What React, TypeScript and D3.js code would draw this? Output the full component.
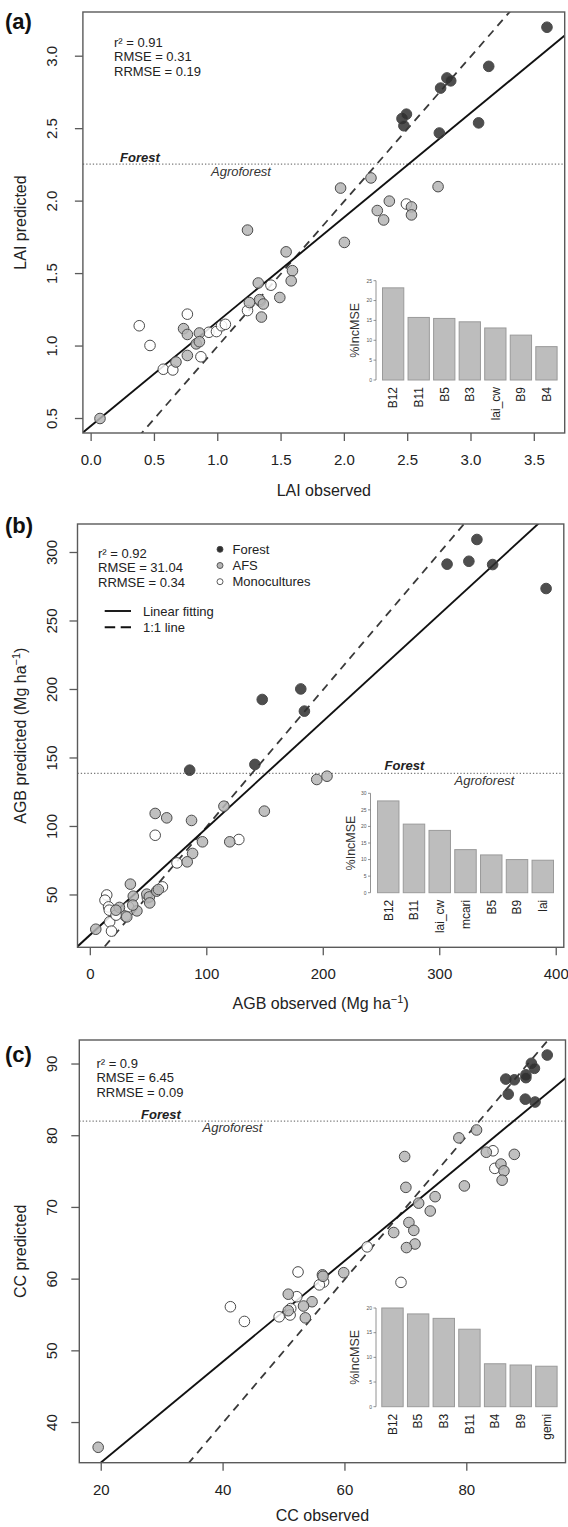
import React from 'react';
import * as d3 from 'd3';

// ---------------- DATA ----------------
// Panel (a) LAI  [observed, predicted]
const laiForest: [number, number][] = [
  [3.60, 3.20], [3.14, 2.93], [2.81, 2.85], [2.84, 2.83], [2.76, 2.78], [2.455, 2.57], [2.49, 2.60],
  [2.47, 2.52], [3.06, 2.54], [2.75, 2.47],
];
const laiAfs: [number, number][] = [
  [2.21, 2.16], [1.97, 2.09], [2.74, 2.10], [2.355, 2.00], [2.26, 1.935], [2.31, 1.87], [2.53, 1.96],
  [2.53, 1.905], [1.235, 1.80], [2.00, 1.715], [1.54, 1.65], [1.59, 1.52], [1.58, 1.45], [1.32, 1.435],
  [1.49, 1.335], [1.33, 1.32], [1.36, 1.29], [1.25, 1.30], [1.345, 1.20], [0.73, 1.12], [0.76, 1.08],
  [0.855, 1.09], [0.83, 1.015], [0.855, 1.03], [0.76, 0.935], [0.67, 0.89], [0.07, 0.50],
];
const laiMono: [number, number][] = [
  [2.49, 1.98], [1.42, 1.42], [1.335, 1.31], [1.235, 1.245], [0.76, 1.22], [0.38, 1.14], [0.465, 1.004],
  [0.93, 1.095], [0.99, 1.10], [1.03, 1.14], [1.06, 1.15], [0.867, 0.926], [0.57, 0.84], [0.645, 0.835],
];
const laiFit = [0.45, 0.72]; // intercept, slope
const laiStats = ['r² = 0.91', 'RMSE = 0.31', 'RRMSE = 0.19'];
const laiForestLimit = 2.255;
const laiImpVars = ['B12', 'B11', 'B5', 'B3', 'lai_cw', 'B9', 'B4'];
const laiImpVals = [23.2, 15.75, 15.5, 14.65, 13.1, 11.3, 8.4];
const laiXTicks = [0, 0.5, 1, 1.5, 2, 2.5, 3, 3.5];
const laiYTicks = [0.5, 1, 1.5, 2, 2.5, 3];
const laiImpTicks = [0, 5, 10, 15, 20, 25];

// Panel (b) AGB
const agbForest: [number, number][] = [
  [331.9, 309.5], [306.3, 291.5], [325, 293.6], [345.4, 291.2], [391.3, 273.7], [147.6, 192.7],
  [180.7, 200.4], [183.8, 184.2], [85.3, 141.1], [141.3, 145.3],
];
const agbAfs: [number, number][] = [
  [194.4, 134.3], [203.2, 136.7], [149.4, 111.2], [114.7, 114.8], [55.7, 109.5], [65.6, 106.3],
  [86.9, 104.4], [96.3, 88.8], [119.7, 88.8], [87.8, 80.3], [83.2, 74.2], [34.4, 57.9], [36.9, 49.1],
  [48.5, 50.6], [50.7, 48.6], [57, 52.8], [58.5, 54], [51, 44.2], [40, 38.4], [36.4, 42.6], [25, 40.9],
  [22, 38.9], [31.3, 34], [4.7, 25],
];
const agbMono: [number, number][] = [
  [55.7, 93.6], [127.5, 90.5], [74.4, 73.4], [14.1, 50], [12.6, 46.2], [15.7, 41.3], [16.3, 38.9],
  [16.6, 30.4], [18.2, 23.6], [32.8, 41.3], [30.1, 34.5], [22.1, 35.3], [49, 48], [61.9, 55.9],
];
const agbFit = [21, 0.78];
const agbStats = ['r² = 0.92', 'RMSE = 31.04', 'RRMSE = 0.34'];
const agbForestLimit = 138.7;
const agbImpVars = ['B12', 'B11', 'lai_cw', 'mcari', 'B5', 'B9', 'lai'];
const agbImpVals = [27.7, 20.7, 18.8, 13.0, 11.4, 10.0, 9.8];
const agbXTicks = [0, 100, 200, 300, 400];
const agbYTicks = [50, 100, 150, 200, 250, 300];
const agbImpTicks = [0, 5, 10, 15, 20, 25, 30];
const legendGroups = ['Forest', 'AFS', 'Monocultures'];
const legendLines = ['Linear fitting', '1:1 line'];

// Panel (c) CC
const ccForest: [number, number][] = [
  [93.2, 91.25], [90.6, 90.1], [91.1, 89.4], [89.7, 88.5], [89.7, 88.1], [86.4, 87.9], [87.8, 87.8],
  [86.8, 85.8], [89.6, 85.1], [91.2, 84.7],
];
const ccAfs: [number, number][] = [
  [81.6, 80.8], [78.7, 79.7], [69.8, 77.1], [83.2, 77.7], [87.8, 77.4], [85.6, 76.05], [86.1, 75.1],
  [85.8, 73.8], [79.6, 73.0], [70.0, 72.8], [74.8, 71.5], [72.1, 70.6], [74, 69.5], [70.5, 67.9],
  [71.3, 66.8], [68, 66.5], [71.5, 64.9], [70.1, 64.4], [59.8, 60.9], [56.3, 60.6], [56.4, 60.4],
  [50.7, 57.9], [54.6, 56.85], [53.2, 56.25], [50.7, 55.6], [53.5, 54.6], [19.5, 36.55],
];
const ccMono: [number, number][] = [
  [84.3, 77.9], [84.6, 75.45], [63.65, 64.5], [69.2, 59.55], [56.5, 59.6], [55.8, 59.2], [52.3, 61.0],
  [41.2, 56.15], [43.5, 54.1], [52.1, 57.55], [51.1, 55.9], [49.2, 54.75], [51, 55],
];
const ccFit = [20.4, 0.703];
const ccStats = ['r² = 0.9', 'RMSE = 6.45', 'RRMSE = 0.09'];
const ccForestLimit = 82.05;
const ccImpVars = ['B12', 'B5', 'B3', 'B11', 'B4', 'B9', 'gemi'];
const ccImpVals = [20.0, 18.8, 17.9, 15.7, 8.7, 8.45, 8.2];
const ccXTicks = [20, 40, 60, 80];
const ccYTicks = [40, 50, 60, 70, 80, 90];
const ccImpTicks = [0, 5, 10, 15, 20];

// ---------------- STYLE ----------------
const FONT = "'Liberation Sans', Arial, Helvetica, sans-serif";
const FILL_FOREST = '#2f2f2f';
const FILL_AFS = '#b5b5b5';
const FILL_MONO = '#ffffff';
const PT_STROKE = '#4a4a4a';
const AXIS = '#5a5a5a';

type Box = { x0: number; x1: number; y0: number; y1: number };

interface PanelProps {
  id: string;
  label: string;
  labelY: number;
  box: Box;
  xDom: [number, number];
  yDom: [number, number];
  xTicks: number[];
  yTicks: number[];
  fmt: (v: number) => string;
  forest: [number, number][];
  afs: [number, number][];
  mono: [number, number][];
  fit: number[];
  limit: number;
  stats: string[];
  statsX: number;
  statsY: number;
  forestLab: [number, number];
  agroLab: [number, number];
  impVars: string[];
  impVals: number[];
  impTicks: number[];
  inset: { axisX: number; left: number; right: number; yZero: number; yTop: number; titleX: number };
  xTitle: React.ReactNode;
  xTitleY: number;
  yTitle: React.ReactNode;
  children?: React.ReactNode;
}

function Panel(p: PanelProps) {
  const { box } = p;
  const x = d3.scaleLinear().domain(p.xDom).range([box.x0, box.x1]);
  const y = d3.scaleLinear().domain(p.yDom).range([box.y1, box.y0]);
  const line = d3.line<[number, number]>().x(d => x(d[0])).y(d => y(d[1]));
  const fitPts: [number, number][] = [p.xDom[0], p.xDom[1]].map(v => [v, p.fit[0] + p.fit[1] * v]);
  const lo = Math.min(p.xDom[0], p.yDom[0]);
  const hi = Math.max(p.xDom[1], p.yDom[1]);
  const oneOne: [number, number][] = [[lo, lo], [hi, hi]];
  const clipId = 'clip-' + p.id;

  const ins = p.inset;
  const bx = d3.scaleBand<string>().domain(p.impVars).range([ins.left, ins.right]).paddingInner(0.2 / 1.2).paddingOuter(0);
  const imax = p.impTicks[p.impTicks.length - 1];
  const by = d3.scaleLinear().domain([0, imax]).range([ins.yZero, ins.yTop]);

  const dot = (pts: [number, number][], fill: string, key: string) =>
    pts.map((d, i) => (
      <circle key={key + i} cx={x(d[0])} cy={y(d[1])} r={5.3} fill={fill} fillOpacity={0.85}
        stroke={PT_STROKE} strokeWidth={1} />
    ));

  const cy = (box.y0 + box.y1) / 2;
  const cx = (box.x0 + box.x1) / 2;

  return (
    <g>
      <defs>
        <clipPath id={clipId}>
          <rect x={box.x0} y={box.y0} width={box.x1 - box.x0} height={box.y1 - box.y0} />
        </clipPath>
      </defs>
      <text x={5} y={p.labelY} fontSize={22} fontWeight="bold" fill="#111">{p.label}</text>

      {/* x axis */}
      {p.xTicks.map(t => (
        <g key={'xt' + t}>
          <line x1={x(t)} x2={x(t)} y1={box.y1} y2={box.y1 + 8} stroke={AXIS} strokeWidth={1.3} />
          <text x={x(t)} y={box.y1 + 32} fontSize={15} textAnchor="middle" fill="#222">{p.fmt(t)}</text>
        </g>
      ))}
      {/* y axis */}
      {p.yTicks.map(t => (
        <g key={'yt' + t}>
          <line x1={box.x0 - 8} x2={box.x0} y1={y(t)} y2={y(t)} stroke={AXIS} strokeWidth={1.3} />
          <text x={57} y={y(t)} fontSize={15} textAnchor="middle" fill="#222"
            transform={`rotate(-90, 57, ${y(t)})`}>{p.fmt(t)}</text>
        </g>
      ))}
      <text x={cx} y={p.xTitleY} fontSize={16} textAnchor="middle" fill="#222">{p.xTitle}</text>
      <text x={26} y={cy} fontSize={16} textAnchor="middle" fill="#222"
        transform={`rotate(-90, 26, ${cy})`}>{p.yTitle}</text>

      {/* forest limit */}
      <line x1={box.x0} x2={box.x1} y1={y(p.limit)} y2={y(p.limit)} stroke="#7a7a7a" strokeWidth={1.2}
        strokeDasharray="1.3,2" />
      <text x={p.forestLab[0]} y={p.forestLab[1]} fontSize={13} fontWeight="bold" fontStyle="italic" fill="#222">Forest</text>
      <text x={p.agroLab[0]} y={p.agroLab[1]} fontSize={13} fontStyle="italic" fill="#333">Agroforest</text>

      {/* stats */}
      {p.stats.map((s, i) => (
        <text key={'st' + i} x={p.statsX} y={p.statsY + i * 14.6} fontSize={13} fill="#222">{s}</text>
      ))}

      {/* inset barplot */}
      <line x1={ins.axisX} x2={ins.axisX} y1={by(0)} y2={by(imax)} stroke="#777" strokeWidth={0.8} />
      {p.impTicks.map(t => (
        <g key={'it' + t}>
          <line x1={ins.axisX - 2.5} x2={ins.axisX} y1={by(t)} y2={by(t)} stroke="#777" strokeWidth={0.8} />
          <text x={ins.axisX - 4} y={by(t) + 1.8} fontSize={5} textAnchor="end" fill="#555">{t}</text>
        </g>
      ))}
      <text x={ins.titleX} y={(by(0) + by(imax)) / 2} fontSize={12.5} textAnchor="middle" fill="#333"
        transform={`rotate(-90, ${ins.titleX}, ${(by(0) + by(imax)) / 2})`}>%IncMSE</text>
      {p.impVars.map((v, i) => (
        <g key={'b' + v}>
          <rect x={bx(v)} y={by(p.impVals[i])} width={bx.bandwidth()} height={by(0) - by(p.impVals[i])}
            fill="#bdbdbd" stroke="#9a9a9a" strokeWidth={1} />
          <text x={(bx(v) as number) + bx.bandwidth() / 2 + 4.3} y={by(0) + 7} fontSize={12} textAnchor="end" fill="#222"
            transform={`rotate(-90, ${(bx(v) as number) + bx.bandwidth() / 2 + 4.3}, ${by(0) + 7})`}>{v}</text>
        </g>
      ))}

      {/* lines and points */}
      <g clipPath={`url(#${clipId})`}>
        <path d={line(oneOne) || ''} stroke="#3a3a3a" strokeWidth={1.8} strokeDasharray="8,6" fill="none" />
        <path d={line(fitPts) || ''} stroke="#111" strokeWidth={1.9} fill="none" />
        {dot(p.mono, FILL_MONO, 'm')}
        {dot(p.afs, FILL_AFS, 'a')}
        {dot(p.forest, FILL_FOREST, 'f')}
      </g>
      {p.children}

      {/* box */}
      <rect x={box.x0} y={box.y0} width={box.x1 - box.x0} height={box.y1 - box.y0} fill="none" stroke={AXIS} strokeWidth={1.4} />
    </g>
  );
}

const supUnit = (pre: string) => (
  <>
    {pre} (Mg ha<tspan dy={-6} fontSize={11}>−1</tspan><tspan dy={6}>)</tspan>
  </>
);

export default function App() {
  const fmt1 = (v: number) => d3.format('.1f')(v);
  const fmt0 = (v: number) => d3.format('d')(v);
  const legendFills = [FILL_FOREST, FILL_AFS, FILL_MONO];
  return (
    <svg width={568} height={1527} style={{ position: 'absolute', left: 0, top: 0, background: '#fff' }}
      fontFamily={FONT}>
      <rect x={0} y={0} width={568} height={1527} fill="#fff" />
      <Panel id="a" label="(a)" labelY={29}
        box={{ x0: 82.9, x1: 564.7, y0: 12, y1: 433 }}
        xDom={[-0.065, 3.74]} yDom={[0.40, 3.305]}
        xTicks={laiXTicks} yTicks={laiYTicks} fmt={fmt1}
        forest={laiForest} afs={laiAfs} mono={laiMono} fit={laiFit} limit={laiForestLimit}
        stats={laiStats} statsX={114} statsY={46.5}
        forestLab={[120, 162]} agroLab={[211, 175.5]}
        impVars={laiImpVars} impVals={laiImpVals} impTicks={laiImpTicks}
        inset={{ axisX: 376, left: 382.5, right: 557.1, yZero: 380, yTop: 280.7, titleX: 359 }}
        xTitle="LAI observed" xTitleY={496} yTitle="LAI predicted" />
      <Panel id="b" label="(b)" labelY={533}
        box={{ x0: 77.5, x1: 563.8, y0: 524, y1: 947.3 }}
        xDom={[-11, 406.5]} yDom={[11.8, 320.8]}
        xTicks={agbXTicks} yTicks={agbYTicks} fmt={fmt0}
        forest={agbForest} afs={agbAfs} mono={agbMono} fit={agbFit} limit={agbForestLimit}
        stats={agbStats} statsX={98} statsY={557.5}
        forestLab={[384.5, 770]} agroLab={[454.5, 785]}
        impVars={agbImpVars} impVals={agbImpVals} impTicks={agbImpTicks}
        inset={{ axisX: 370.5, left: 377.5, right: 553.5, yZero: 892.7, yTop: 793.3, titleX: 355 }}
        xTitle={supUnit('AGB observed')} xTitleY={1009} yTitle={supUnit('AGB predicted')}>
        <g>
          {legendGroups.map((g, i) => (
            <g key={g}>
              <circle cx={220} cy={549.3 + i * 16.2} r={3} fill={legendFills[i]} stroke={PT_STROKE} strokeWidth={0.9} />
              <text x={232.5} y={549.3 + i * 16.2 + 4.6} fontSize={13} fill="#222">{g}</text>
            </g>
          ))}
          {legendLines.map((g, i) => (
            <g key={g}>
              <line x1={104.7} x2={131} y1={611 + i * 16.3} y2={611 + i * 16.3} stroke="#111" strokeWidth={1.9}
                strokeDasharray={i === 1 ? '10.5,5.5' : undefined} />
              <text x={143} y={611 + i * 16.3 + 4.6} fontSize={13} fill="#222">{g}</text>
            </g>
          ))}
        </g>
      </Panel>
      <Panel id="c" label="(c)" labelY={1062}
        box={{ x0: 79.3, x1: 565.5, y0: 1040, y1: 1462.7 }}
        xDom={[16.4, 96.2]} yDom={[34.4, 93.35]}
        xTicks={ccXTicks} yTicks={ccYTicks} fmt={fmt0}
        forest={ccForest} afs={ccAfs} mono={ccMono} fit={ccFit} limit={ccForestLimit}
        stats={ccStats} statsX={96.4} statsY={1067.5}
        forestLab={[141, 1118.5]} agroLab={[202.5, 1132]}
        impVars={ccImpVars} impVals={ccImpVals} impTicks={ccImpTicks}
        inset={{ axisX: 376, left: 381.8, right: 557.1, yZero: 1406.7, yTop: 1308, titleX: 359 }}
        xTitle="CC observed" xTitleY={1521} yTitle="CC predicted" />
    </svg>
  );
}
